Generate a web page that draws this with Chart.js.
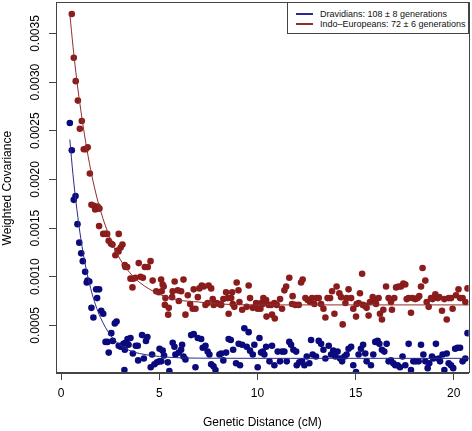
<!DOCTYPE html>
<html>
<head>
<meta charset="utf-8">
<script src="https://cdn.jsdelivr.net/npm/chart.js@4/dist/chart.umd.min.js"></script>
<style>
  body { margin: 0; background: #fff; }
  #wrap { position: relative; width: 472px; height: 431px; }
  #key {
    position: absolute; left: 287px; top: 2px; width: 182px; height: 32px;
    border: 1px solid #444; background: #fff; box-sizing: border-box;
    font: 9px "Liberation Sans", Arial, sans-serif; color: #111;
  }
  .row { position: absolute; left: 0; height: 10px; line-height: 10px; white-space: nowrap; }
  .sw { position: absolute; left: 8px; top: 4px; width: 17px; height: 2px; }
  .tx { position: absolute; left: 32px; top: 0; }
</style>
</head>
<body>
<div id="wrap">
  <canvas id="c" width="472" height="431"></canvas>
  <div id="key"></div>
</div>
<script>
// legend labels + colours
var names  = ["Dravidians: 108 \u00b1 8 generations", "Indo\u2013Europeans: 72 \u00b1 6 generations"];
var dotCol = ["#0a0a7c", "#8b1c1c"];
var fitCol = ["#2a2a8e", "#8e2e2e"];

var xTicks = [0, 5, 10, 15, 20];
var yTicks = [0.0005, 0.0010, 0.0015, 0.0020, 0.0025, 0.0030, 0.0035];

// fitted decay curves
var fitX    = [0.44, 0.6, 0.8, 1.0, 1.25, 1.5, 1.75, 2.0, 2.5, 3.0, 3.5, 4.0, 5.0, 6.0, 7.0, 8.0, 10, 14, 20.8];
var dravFit = [0.00241, 0.00205, 0.00169, 0.00139, 0.00110, 0.00088, 0.00071, 0.00058, 0.00040, 0.00030, 0.00024, 0.00021, 0.00018, 0.000167, 0.000163, 0.000162, 0.000161, 0.000161, 0.000161];
var indoFit = [0.00370, 0.00337, 0.00301, 0.00271, 0.00238, 0.00210, 0.00187, 0.00168, 0.00139, 0.00118, 0.00104, 0.00094, 0.00082, 0.00076, 0.00074, 0.00072, 0.00071, 0.00071, 0.00071];

// weighted covariance points [cM, cov]
var dravPts = [
  [0.44,0.00258],[0.54,0.00230],[0.64,0.00179],[0.73,0.00183],[0.83,0.00154],[0.92,0.00135],[1.02,0.00124],
  [1.10,0.00116],[1.22,0.00105],[1.30,0.00094],[1.34,0.00096],[1.43,0.00095],[1.54,0.00068],[1.64,0.00058],
  [1.78,0.00087],[1.83,0.00078],[1.93,0.00087],[2.04,0.00065],[2.14,0.00062],[2.26,0.00033],[2.36,0.00033],
  [2.42,0.00022],[2.55,0.00042],[2.63,0.00034],[2.73,0.00052],[2.82,0.00054],[2.93,0.00029],[3.03,0.00028],
  [3.17,0.00031],[3.22,0.00004],[3.24,0.00025],[3.27,0.00032],[3.38,0.00036],[3.43,0.00030],[3.53,0.00037],
  [3.65,0.00021],[3.80,0.00029],[3.90,0.00029],[3.92,0.00014],[4.12,0.00040],[4.21,0.00016],[4.32,0.00034],
  [4.39,0.00038],[4.56,0.00007],[4.63,0.00020],[4.75,0.00010],[4.88,0.00012],[5.00,0.00013],[5.01,0.00026],
  [5.10,0.00013],[5.17,0.00024],[5.24,0.00019],[5.43,0.00012],[5.51,0.00003],[5.68,0.00032],[5.77,0.00028],
  [5.82,0.00020],[5.99,0.00022],[6.11,0.00025],[6.16,0.00030],[6.23,0.00018],[6.33,0.00015],[6.62,0.00040],
  [6.75,0.00041],[6.84,0.00007],[6.96,0.00037],[7.13,0.00036],[7.21,0.00027],[7.35,0.00029],[7.46,0.00023],
  [7.55,0.00020],[7.64,0.00010],[7.76,0.00008],[7.86,0.00004],[8.06,0.00020],[8.15,0.00021],[8.26,0.00014],
  [8.40,0.00022],[8.53,0.00036],[8.64,0.00035],[8.76,0.00025],[8.91,0.00011],[9.04,0.00031],[9.11,0.00009],
  [9.22,0.00030],[9.33,0.00047],[9.45,0.00028],[9.55,0.00043],[9.62,0.00024],[9.76,0.00020],[9.84,0.00030],
  [10.01,0.00007],[10.10,0.00037],[10.18,0.00022],[10.27,0.00023],[10.35,0.00020],[10.44,0.00028],[10.61,0.00013],
  [10.74,0.00029],[10.86,0.00009],[11.03,0.00023],[11.15,0.00013],[11.25,0.00023],[11.37,0.00023],[11.49,0.00013],
  [11.62,0.00033],[11.71,0.00030],[11.83,0.00025],[11.97,0.00023],[12.00,0.00009],[12.13,0.00012],[12.27,0.00013],
  [12.39,0.00009],[12.51,0.00018],[12.64,0.00011],[12.73,0.00035],[12.81,0.00020],[12.98,0.00018],[13.12,0.00034],
  [13.24,0.00031],[13.36,0.00025],[13.46,0.00016],[13.63,0.00029],[13.75,0.00020],[13.86,0.00024],[13.97,0.00018],
  [14.08,0.00023],[14.21,0.00016],[14.31,0.00013],[14.43,0.00018],[14.54,0.00020],[14.64,0.00026],[14.77,0.00028],
  [14.88,0.00009],[15.02,0.00002],[15.15,0.00020],[15.27,0.00026],[15.38,0.00030],[15.49,0.00021],[15.56,0.00013],
  [15.78,0.00009],[15.90,0.00020],[16.00,0.00033],[16.12,0.00034],[16.21,0.00031],[16.34,0.00025],[16.46,0.00023],
  [16.58,0.00031],[16.68,0.00013],[16.80,0.00014],[16.92,0.00011],[17.02,0.00009],[17.14,0.00009],[17.26,0.00007],
  [17.39,0.00018],[17.53,0.00009],[17.70,0.00031],[17.82,0.00004],[17.94,0.00013],[18.07,0.00013],[18.21,0.00013],
  [18.33,0.00030],[18.45,0.00020],[18.55,0.00013],[18.67,0.00006],[18.75,0.00011],[18.89,0.00018],[18.96,0.00016],
  [19.09,0.00031],[19.23,0.00016],[19.30,0.00013],[19.43,0.00020],[19.52,0.00004],[19.64,0.00021],[19.74,0.00011],
  [19.86,0.00009],[19.97,0.00006],[20.07,0.00026],[20.19,0.00027],[20.32,0.00027],[20.45,0.00013],[20.59,0.00016],
  [20.70,0.00042]
];

var indoPts = [
  [0.54,0.00370],[0.64,0.00325],[0.74,0.00301],[0.85,0.00281],[0.95,0.00252],[1.05,0.00260],[1.15,0.00231],
  [1.25,0.00231],[1.35,0.00233],[1.46,0.00206],[1.54,0.00174],[1.66,0.00173],[1.73,0.00169],[1.76,0.00171],
  [1.85,0.00170],[1.86,0.00172],[1.95,0.00170],[1.93,0.00152],[2.14,0.00144],[2.26,0.00144],[2.34,0.00144],
  [2.42,0.00137],[2.53,0.00134],[2.61,0.00133],[2.76,0.00122],[2.87,0.00127],[2.92,0.00126],[2.93,0.00144],
  [3.03,0.00130],[3.12,0.00133],[3.24,0.00112],[3.27,0.00110],[3.36,0.00110],[3.53,0.00098],[3.63,0.00089],
  [3.67,0.00098],[3.78,0.00099],[3.95,0.00114],[4.04,0.00100],[4.16,0.00099],[4.26,0.00110],[4.41,0.00110],
  [4.55,0.00116],[4.66,0.00096],[4.84,0.00085],[4.97,0.00084],[5.09,0.00097],[5.12,0.00085],[5.17,0.00092],
  [5.22,0.00090],[5.28,0.00071],[5.31,0.00078],[5.45,0.00061],[5.48,0.00068],[5.65,0.00079],[5.68,0.00085],
  [5.78,0.00095],[5.94,0.00086],[5.99,0.00075],[6.11,0.00085],[6.23,0.00097],[6.33,0.00061],[6.45,0.00081],
  [6.57,0.00072],[6.70,0.00067],[6.75,0.00087],[6.84,0.00067],[6.96,0.00079],[7.04,0.00088],[7.16,0.00091],
  [7.26,0.00090],[7.35,0.00071],[7.46,0.00073],[7.51,0.00091],[7.64,0.00088],[7.72,0.00077],[7.77,0.00071],
  [7.92,0.00073],[8.06,0.00072],[8.15,0.00071],[8.26,0.00077],[8.40,0.00084],[8.48,0.00078],[8.53,0.00062],
  [8.66,0.00078],[8.71,0.00084],[8.74,0.00072],[8.82,0.00069],[8.94,0.00094],[9.03,0.00086],[9.08,0.00074],
  [9.22,0.00066],[9.45,0.00069],[9.55,0.00091],[9.62,0.00078],[9.76,0.00068],[9.93,0.00073],[10.01,0.00067],
  [10.15,0.00067],[10.18,0.00073],[10.27,0.00072],[10.30,0.00078],[10.44,0.00076],[10.46,0.00059],[10.57,0.00071],
  [10.69,0.00071],[10.74,0.00061],[10.86,0.00073],[10.88,0.00057],[10.98,0.00071],[11.15,0.00077],[11.25,0.00067],
  [11.37,0.00086],[11.46,0.00090],[11.62,0.00099],[11.76,0.00072],[11.79,0.00080],[11.93,0.00071],[12.10,0.00071],
  [12.22,0.00094],[12.30,0.00097],[12.44,0.00078],[12.56,0.00076],[12.68,0.00074],[12.78,0.00078],[12.90,0.00072],
  [13.01,0.00078],[13.12,0.00078],[13.24,0.00072],[13.36,0.00067],[13.46,0.00058],[13.57,0.00078],[13.70,0.00078],
  [13.80,0.00085],[13.92,0.00062],[14.03,0.00090],[14.17,0.00083],[14.26,0.00079],[14.34,0.00051],[14.48,0.00073],
  [14.54,0.00078],[14.64,0.00087],[14.77,0.00078],[14.88,0.00067],[15.02,0.00059],[15.05,0.00072],[15.15,0.00073],
  [15.22,0.00083],[15.33,0.00103],[15.37,0.00071],[15.49,0.00070],[15.56,0.00068],[15.66,0.00060],[15.73,0.00074],
  [15.87,0.00079],[16.00,0.00075],[16.04,0.00072],[16.17,0.00078],[16.24,0.00062],[16.34,0.00056],[16.41,0.00066],
  [16.55,0.00090],[16.68,0.00078],[16.80,0.00074],[16.85,0.00066],[16.97,0.00078],[17.06,0.00089],[17.19,0.00090],
  [17.31,0.00090],[17.43,0.00093],[17.53,0.00092],[17.60,0.00077],[17.70,0.00078],[17.82,0.00063],[17.90,0.00078],
  [18.04,0.00077],[18.16,0.00078],[18.24,0.00080],[18.33,0.00090],[18.41,0.00109],[18.55,0.00096],[18.62,0.00074],
  [18.72,0.00069],[18.84,0.00078],[18.92,0.00077],[19.06,0.00082],[19.18,0.00078],[19.26,0.00079],[19.40,0.00065],
  [19.52,0.00077],[19.64,0.00056],[19.74,0.00078],[19.86,0.00078],[19.94,0.00067],[20.11,0.00081],[20.24,0.00087],
  [20.32,0.00078],[20.45,0.00078],[20.59,0.00074],[20.70,0.00088]
];

var FONT = '"Liberation Sans", Arial, Helvetica, sans-serif';

function pts(arr) {
  return arr.map(function(p) { return { x: p[0], y: p[1] }; });
}
function curve(ys) {
  return fitX.map(function(x, i) { return { x: x, y: ys[i] }; });
}

function dots(data, col) {
  return { data: pts(data), backgroundColor: col, borderWidth: 0, pointRadius: 3.3, pointHoverRadius: 3.3, order: 2 };
}
function fitLine(data, col) {
  return { data: curve(data), showLine: true, borderColor: col, borderWidth: 1, pointRadius: 0,
           cubicInterpolationMode: "monotone", order: 1 };
}

// box round the plot + rotated y labels like base R
var frame = {
  id: "frame",
  afterDraw: function(chart) {
    var a = chart.chartArea, c = chart.ctx, ys = chart.scales.y;
    c.save();
    c.strokeStyle = "#444";
    c.lineWidth = 1;
    c.strokeRect(Math.round(a.left) + 0.5, Math.round(a.top) - 0.5, Math.round(a.right - a.left), Math.round(a.bottom - a.top));
    c.fillStyle = "#000";
    c.font = "12px " + FONT;
    c.textAlign = "center";
    c.textBaseline = "middle";
    yTicks.forEach(function(v) {
      c.save();
      c.translate(36, ys.getPixelForValue(v));
      c.rotate(-Math.PI / 2);
      c.fillText(v.toFixed(4), 0, 0);
      c.restore();
    });
    c.restore();
  }
};

new Chart(document.getElementById("c"), {
  type: "scatter",
  data: {
    datasets: [
      fitLine(dravFit, fitCol[0]),
      fitLine(indoFit, fitCol[1]),
      dots(dravPts, dotCol[0]),
      dots(indoPts, dotCol[1])
    ]
  },
  options: {
    responsive: false,
    devicePixelRatio: 1,
    animation: false,
    layout: { padding: { top: 3, right: 2, left: 0, bottom: 0 } },
    plugins: { legend: { display: false }, tooltip: { enabled: false } },
    scales: {
      x: {
        type: "linear", min: -0.265, max: 20.76,
        afterBuildTicks: function(s) { s.ticks = xTicks.map(function(v) { return { value: v }; }); },
        afterFit: function(s) { s.height = 58; },
        ticks: { color: "#000", font: { size: 12, family: FONT }, padding: 6, maxRotation: 0,
                 callback: function(v) { return String(v); } },
        grid: { drawOnChartArea: false, drawTicks: true, tickLength: 7, color: "#444" },
        border: { display: true, color: "#444" },
        title: { display: true, text: "Genetic Distance (cM)", color: "#000",
                 font: { size: 12, family: FONT, lineHeight: 1.2 }, padding: { top: 0, bottom: 1 } }
      },
      y: {
        type: "linear", min: 0.0000103, max: 0.00381,
        afterBuildTicks: function(s) { s.ticks = yTicks.map(function(v) { return { value: v }; }); },
        afterFit: function(s) { s.width = 56; },
        ticks: { display: false },
        grid: { drawOnChartArea: false, drawTicks: true, tickLength: 7, color: "#444" },
        border: { display: true, color: "#444" },
        title: { display: true, text: "Weighted Covariance", color: "#000",
                 font: { size: 12, family: FONT, lineHeight: 1.2 }, padding: { top: 0, bottom: 0 } }
      }
    }
  },
  plugins: [frame]
});

// legend box (top right, inside the plot)
var key = document.getElementById("key");
names.forEach(function(n, i) {
  var r = document.createElement("div");
  r.className = "row";
  r.style.top = (6 + i * 10) + "px";
  r.innerHTML = '<span class="sw" style="background:' + fitCol[i] + '"></span><span class="tx"></span>';
  r.querySelector(".tx").textContent = n;
  key.appendChild(r);
});
</script>
</body>
</html>
